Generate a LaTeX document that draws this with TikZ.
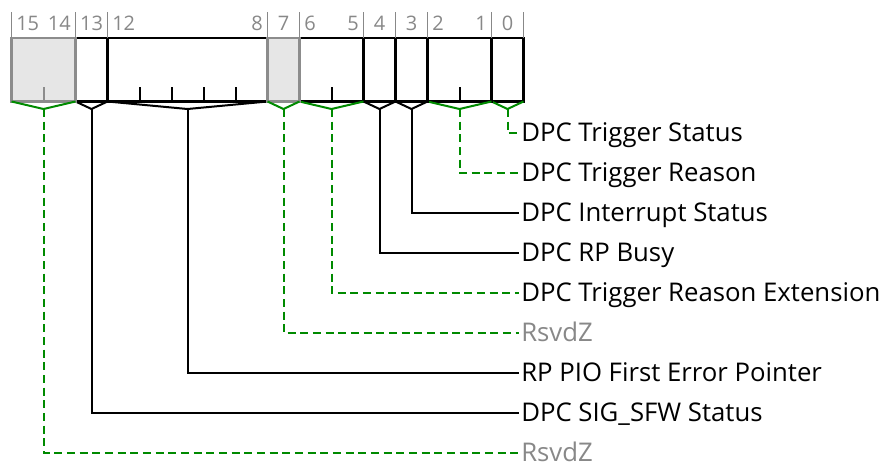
\documentclass[tikz,border=0pt]{standalone}
\usepackage{fontspec}
\setmainfont{Open Sans}
\newfontfamily\regfont{Open Sans}
\usetikzlibrary{calc}

\definecolor{numgray}{HTML}{888888}
\definecolor{rsvline}{HTML}{8C8C8C}
\definecolor{rsvfill}{HTML}{E6E6E6}
\definecolor{pcigreen}{HTML}{008A00}

\begin{document}
\begin{tikzpicture}[
  x=0.75pt, y=-0.75pt,
  fieldbox/.style={draw=black, line width=2pt},
  rsvbox/.style={draw=rsvline, fill=rsvfill, line width=2pt},
  bittick/.style={draw=#1, line width=1.5pt},
  numtick/.style={draw=numgray, line width=1.3pt},
  bitnum/.style={text=numgray, font=\regfont\fontsize{15}{17}\selectfont, inner sep=0pt},
  lbl/.style={anchor=base west, inner sep=0pt, yshift=-6.6pt,
              font=\regfont\fontsize{19.3}{22}\selectfont},
  solidlink/.style={draw=black, line width=1.5pt},
  dashlink/.style={draw=pcigreen, line width=1.5pt, dash pattern=on 6pt off 3.5pt},
  brace/.style={draw=#1, line width=1.5pt, line join=miter},
]
\useasboundingbox (0,0) rectangle (887,461);

% register fields: hi/lo bit, box style, tick colour, link style, colour, row, label, text colour
\foreach \hi/\lo/\bx/\tk/\lk/\col/\row/\txt/\tc in {
    0/0/fieldbox/black/dashlink/pcigreen/1/DPC Trigger Status/black,
    2/1/fieldbox/black/dashlink/pcigreen/2/DPC Trigger Reason/black,
    3/3/fieldbox/black/solidlink/black/3/DPC Interrupt Status/black,
    4/4/fieldbox/black/solidlink/black/4/DPC RP Busy/black,
    6/5/fieldbox/black/dashlink/pcigreen/5/DPC Trigger Reason Extension/black,
    12/8/fieldbox/black/solidlink/black/7/RP PIO First Error Pointer/black,
    13/13/fieldbox/black/solidlink/black/8/DPC SIG\_SFW Status/black,
    7/7/rsvbox/rsvline/dashlink/pcigreen/6/RsvdZ/numgray,
    15/14/rsvbox/rsvline/dashlink/pcigreen/9/RsvdZ/numgray}
{
  \pgfmathsetmacro{\xl}{11.5+(15-\hi)*32}
  \pgfmathsetmacro{\xr}{11.5+(16-\lo)*32}
  \pgfmathsetmacro{\xm}{(\xl+\xr)/2}
  \pgfmathsetmacro{\ry}{133+(\row-1)*40}
  % box and inner bit ticks
  \draw[\bx] (\xl,38) rectangle (\xr,101.5);
  \ifnum\hi>\lo
    \pgfmathtruncatemacro{\nb}{\hi-\lo}
    \foreach \k in {1,...,\nb}
      \draw[bittick=\tk] ({\xl+\k*32},101.5) -- ++(0,-15);
  \fi
  % bit numbers
  \draw[numtick] (\xl,12) -- (\xl,38);
  \draw[numtick] (\xr,12) -- (\xr,38);
  \ifnum\hi=\lo
    \node[bitnum, anchor=base] (n\hi) at (\xm,30) {\hi};
  \else
    \node[bitnum, anchor=base west] (n\hi) at ({\xl+4.5},30) {\hi};
    \node[bitnum, anchor=base east] (n\lo) at ({\xr-4.5},30) {\lo};
  \fi
  % brace and link to label
  \coordinate (tip\row) at (\xm,109);
  \coordinate (end\row) at (519,\ry);
  \draw[brace=\col] (\xl,101.5) -- (tip\row) -- (\xr,101.5);
  \draw[\lk] (tip\row) |- (end\row);
  \node[lbl, text=\tc] (lab\row) at ([xshift=1.5pt]end\row) {\txt};
}
\end{tikzpicture}
\end{document}
